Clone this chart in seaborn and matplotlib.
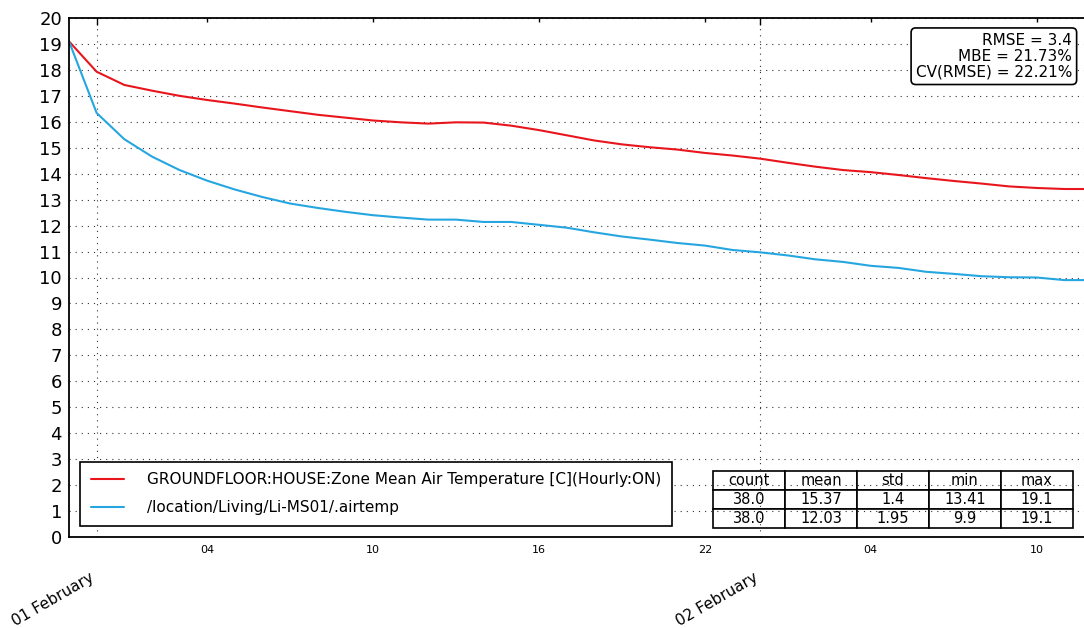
import matplotlib
matplotlib.use("Agg")
import matplotlib.pyplot as plt
import matplotlib.dates as mdates
import numpy as np
import pandas as pd
import seaborn as sns

# Hourly readings, starting 31 Jan 23:00
start_time = "2015-01-31 23:00"
n_hours = 38

simulated = [19.1, 17.93, 17.42, 17.2, 17.0, 16.84, 16.7, 16.55, 16.41, 16.27,
             16.16, 16.05, 15.98, 15.93, 15.98, 15.97, 15.85, 15.68, 15.48, 15.28,
             15.13, 15.02, 14.93, 14.8, 14.7, 14.58, 14.42, 14.27, 14.14, 14.06,
             13.95, 13.83, 13.72, 13.62, 13.51, 13.45, 13.41, 13.41]
measured = [19.1, 16.34, 15.33, 14.66, 14.14, 13.73, 13.39, 13.1, 12.85, 12.68,
            12.53, 12.4, 12.31, 12.23, 12.23, 12.14, 12.14, 12.03, 11.92, 11.74,
            11.58, 11.46, 11.33, 11.23, 11.06, 10.97, 10.85, 10.7, 10.6, 10.45,
            10.37, 10.22, 10.14, 10.05, 10.01, 10.0, 9.9, 9.9]

sim_label = "GROUNDFLOOR:HOUSE:Zone Mean Air Temperature [C](Hourly:ON)"
meas_label = "/location/Living/Li-MS01/.airtemp"

stat_columns = ["count", "mean", "std", "min", "max"]
sim_stats = ["38.0", "15.37", "1.4", "13.41", "19.1"]
meas_stats = ["38.0", "12.03", "1.95", "9.9", "19.1"]

fit_lines = ["RMSE = 3.4", "MBE = 21.73%", "CV(RMSE) = 22.21%"]

y_ticks = list(range(0, 21))
minor_hours = [4, 10, 16, 22]

line_colors = ["#e8161c", "#26a6e0"]

# ---------------------------------------------------------------------------
times = pd.date_range(start_time, periods=n_hours, freq="h")
df = pd.concat([
    pd.DataFrame({"time": times, "temp": simulated, "series": sim_label}),
    pd.DataFrame({"time": times, "temp": measured, "series": meas_label}),
], ignore_index=True)

sns.set_style("white")
plt.rcParams["font.family"] = ["DejaVu Sans"]
plt.rcParams["text.color"] = "black"
plt.rcParams["xtick.color"] = "black"
plt.rcParams["ytick.color"] = "black"
plt.rcParams["axes.labelcolor"] = "black"

fig = plt.figure(figsize=(10.84, 6.28), dpi=100)
ax = fig.add_axes([69 / 1084, 1 - 537 / 628, (1092 - 69) / 1084, (537 - 18) / 628])

sns.lineplot(data=df, x="time", y="temp", hue="series", palette=line_colors,
             linewidth=1.5, ax=ax, legend=True)

ax.set_xlim(times[0], times[-1])
ax.set_ylim(0, 20)
ax.set_yticks(y_ticks)
ax.set_xlabel("")
ax.set_ylabel("")

ax.xaxis.set_major_locator(mdates.DayLocator())
ax.xaxis.set_major_formatter(mdates.DateFormatter("%d %B"))
ax.xaxis.set_minor_locator(mdates.HourLocator(byhour=minor_hours))
ax.xaxis.set_minor_formatter(mdates.DateFormatter("%H"))

for sp in ax.spines.values():
    sp.set_visible(True)
    sp.set_color("black")
    sp.set_linewidth(1.3)

ax.tick_params(which="both", direction="in", top=True, right=True,
               color="black", labelcolor="black")
ax.tick_params(axis="x", which="major", length=5, width=1, pad=24, labelsize=11,
               labelrotation=30)
ax.tick_params(axis="x", which="minor", length=3, width=1, pad=6, labelsize=8)
ax.tick_params(axis="y", which="major", length=5, width=1, pad=5, labelsize=13)
for lbl in ax.get_xticklabels(which="major"):
    lbl.set_ha("right")

ax.grid(which="major", axis="both", linestyle=(0, (1, 4.5)), color="#333333",
        linewidth=0.8)
ax.set_axisbelow(True)

handles, labels = ax.get_legend_handles_labels()
leg = ax.legend(handles, labels, loc="lower left", bbox_to_anchor=(0.0108, 0.0212),
                borderaxespad=0, fontsize=11, frameon=True, fancybox=False,
                handlelength=2.2, handletextpad=1.5, labelspacing=0.85,
                borderpad=0.7, title=None)
leg.get_frame().set_edgecolor("black")
leg.get_frame().set_linewidth(1.2)
leg.get_frame().set_alpha(1)
for t in leg.get_texts():
    t.set_color("black")

tab = ax.table(cellText=[sim_stats, meas_stats], colLabels=stat_columns,
               cellLoc="center", bbox=[0.6295, 0.0173, 0.3519, 0.1098])
tab.auto_set_font_size(False)
tab.set_fontsize(10.5)
for cell in tab.get_celld().values():
    cell.set_edgecolor("black")
    cell.set_linewidth(1.2)
    cell.set_facecolor("white")
    cell.get_text().set_color("black")

ax.text(0.9805, 0.972, "\n".join(fit_lines), transform=ax.transAxes,
        ha="right", va="top", fontsize=11, linespacing=1.1, color="black",
        bbox=dict(boxstyle="round,pad=0.3", fc="white", ec="black", lw=1.2))

fig.savefig("out.png", dpi=100)
